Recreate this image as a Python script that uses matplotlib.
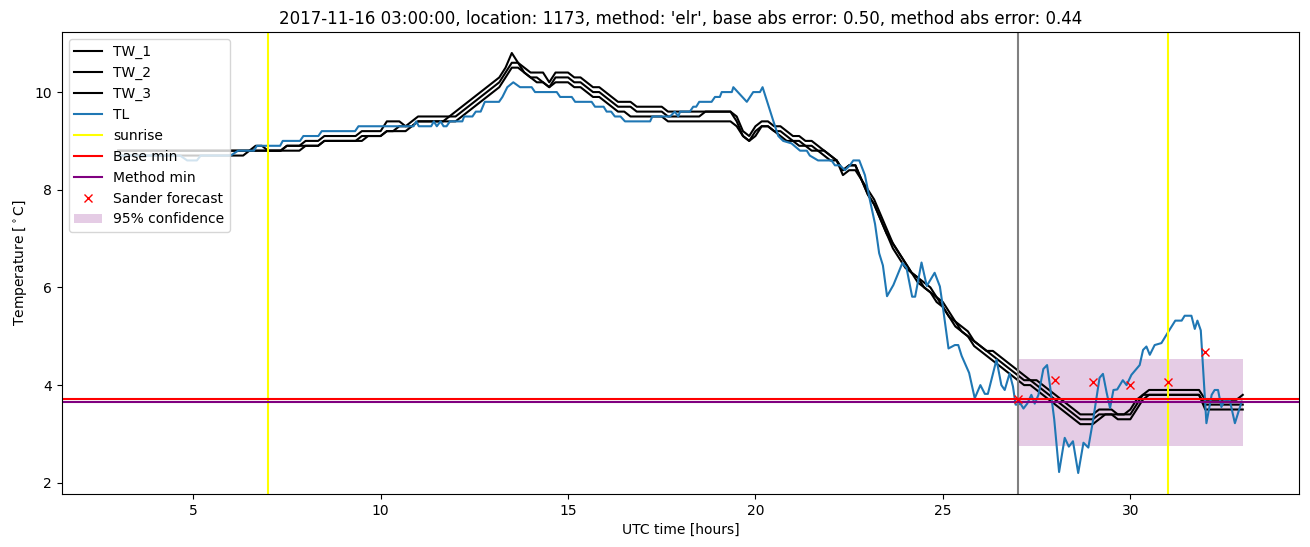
import numpy as np
import matplotlib
matplotlib.use('Agg')
from matplotlib import pyplot as plt

# 10-minute grid for the TW sensors
tw_time = np.linspace(3, 33, 181)
tw_1 = [8.8, 8.8, 8.8, 8.8, 8.8, 8.8,
        8.8, 8.8, 8.8, 8.8, 8.8, 8.8,
        8.8, 8.8, 8.8, 8.8, 8.8, 8.8,
        8.8, 8.8, 8.8, 8.8, 8.9, 8.9,
        8.8, 8.8, 8.8, 8.9, 8.9, 8.9,
        9.0, 9.0, 9.0, 9.1, 9.1, 9.1,
        9.1, 9.1, 9.1, 9.2, 9.2, 9.2,
        9.2, 9.4, 9.4, 9.4, 9.3, 9.4,
        9.5, 9.5, 9.5, 9.5, 9.5, 9.5,
        9.6, 9.7, 9.8, 9.9, 10.0, 10.1,
        10.2, 10.3, 10.5, 10.8, 10.6, 10.5,
        10.4, 10.4, 10.4, 10.2, 10.4, 10.4,
        10.4, 10.3, 10.3, 10.2, 10.1, 10.1,
        10.0, 9.9, 9.8, 9.8, 9.8, 9.7,
        9.7, 9.7, 9.7, 9.7, 9.6, 9.6,
        9.6, 9.6, 9.6, 9.6, 9.6, 9.6,
        9.6, 9.6, 9.6, 9.5, 9.2, 9.1,
        9.3, 9.4, 9.4, 9.3, 9.3, 9.2,
        9.1, 9.1, 9.0, 9.0, 8.9, 8.8,
        8.7, 8.6, 8.4, 8.5, 8.5, 8.2,
        8.0, 7.8, 7.5, 7.2, 6.9, 6.7,
        6.5, 6.3, 6.2, 6.1, 6.0, 5.8,
        5.7, 5.5, 5.3, 5.2, 5.1, 4.9,
        4.8, 4.7, 4.7, 4.6, 4.5, 4.4,
        4.3, 4.2, 4.1, 4.1, 4.0, 3.9,
        3.8, 3.7, 3.6, 3.5, 3.4, 3.4,
        3.4, 3.5, 3.5, 3.5, 3.4, 3.4,
        3.5, 3.7, 3.8, 3.9, 3.9, 3.9,
        3.9, 3.9, 3.9, 3.9, 3.9, 3.9,
        3.7, 3.7, 3.7, 3.7, 3.7, 3.7,
        3.8]
tw_2 = [8.8, 8.8, 8.8, 8.8, 8.8, 8.8,
        8.8, 8.8, 8.8, 8.8, 8.8, 8.8,
        8.8, 8.8, 8.8, 8.8, 8.8, 8.8,
        8.8, 8.8, 8.8, 8.8, 8.8, 8.8,
        8.8, 8.8, 8.8, 8.9, 8.9, 8.9,
        8.9, 8.9, 8.9, 9.0, 9.0, 9.0,
        9.0, 9.0, 9.0, 9.1, 9.1, 9.1,
        9.1, 9.2, 9.2, 9.3, 9.3, 9.3,
        9.4, 9.4, 9.4, 9.4, 9.4, 9.5,
        9.5, 9.6, 9.7, 9.8, 9.9, 10.0,
        10.1, 10.2, 10.4, 10.6, 10.6, 10.4,
        10.3, 10.3, 10.2, 10.1, 10.3, 10.3,
        10.3, 10.2, 10.2, 10.1, 10.0, 10.0,
        9.9, 9.8, 9.7, 9.7, 9.7, 9.6,
        9.6, 9.6, 9.6, 9.6, 9.5, 9.5,
        9.5, 9.5, 9.5, 9.5, 9.6, 9.6,
        9.6, 9.6, 9.6, 9.4, 9.1, 9.0,
        9.2, 9.3, 9.3, 9.2, 9.2, 9.1,
        9.0, 9.0, 8.9, 8.9, 8.8, 8.8,
        8.7, 8.6, 8.4, 8.5, 8.5, 8.2,
        7.9, 7.7, 7.4, 7.1, 6.9, 6.7,
        6.5, 6.3, 6.2, 6.0, 5.9, 5.8,
        5.6, 5.4, 5.3, 5.1, 5.0, 4.9,
        4.8, 4.7, 4.6, 4.5, 4.4, 4.3,
        4.2, 4.1, 4.1, 4.0, 3.9, 3.8,
        3.7, 3.6, 3.5, 3.4, 3.3, 3.3,
        3.3, 3.4, 3.4, 3.4, 3.4, 3.4,
        3.4, 3.6, 3.8, 3.8, 3.8, 3.8,
        3.8, 3.8, 3.8, 3.8, 3.8, 3.8,
        3.6, 3.6, 3.6, 3.6, 3.6, 3.6,
        3.6]
tw_3 = [8.7, 8.7, 8.7, 8.7, 8.7, 8.7,
        8.7, 8.7, 8.7, 8.7, 8.7, 8.7,
        8.7, 8.7, 8.7, 8.7, 8.7, 8.7,
        8.7, 8.7, 8.7, 8.8, 8.8, 8.8,
        8.8, 8.8, 8.8, 8.8, 8.8, 8.8,
        8.9, 8.9, 8.9, 9.0, 9.0, 9.0,
        9.0, 9.0, 9.0, 9.0, 9.1, 9.1,
        9.1, 9.2, 9.2, 9.2, 9.2, 9.3,
        9.4, 9.4, 9.4, 9.4, 9.4, 9.4,
        9.4, 9.5, 9.6, 9.7, 9.8, 9.9,
        10.0, 10.1, 10.3, 10.5, 10.5, 10.4,
        10.3, 10.2, 10.2, 10.1, 10.2, 10.2,
        10.2, 10.1, 10.1, 10.0, 9.9, 9.9,
        9.8, 9.7, 9.6, 9.6, 9.5, 9.5,
        9.5, 9.5, 9.5, 9.5, 9.4, 9.4,
        9.4, 9.4, 9.4, 9.4, 9.4, 9.4,
        9.4, 9.4, 9.4, 9.3, 9.1, 9.0,
        9.1, 9.3, 9.3, 9.2, 9.1, 9.0,
        9.0, 8.9, 8.9, 8.8, 8.8, 8.7,
        8.6, 8.6, 8.3, 8.4, 8.4, 8.2,
        7.9, 7.7, 7.4, 7.1, 6.8, 6.6,
        6.4, 6.3, 6.1, 6.0, 5.9, 5.7,
        5.6, 5.4, 5.2, 5.1, 5.0, 4.8,
        4.7, 4.6, 4.5, 4.4, 4.3, 4.2,
        4.1, 4.0, 4.0, 3.9, 3.8, 3.7,
        3.6, 3.5, 3.4, 3.3, 3.2, 3.2,
        3.2, 3.3, 3.4, 3.4, 3.3, 3.3,
        3.3, 3.5, 3.7, 3.8, 3.8, 3.8,
        3.8, 3.8, 3.8, 3.8, 3.8, 3.8,
        3.5, 3.5, 3.5, 3.5, 3.5, 3.5,
        3.5]

tl_time = [3.0, 4.65, 4.84, 5.1, 5.2, 6.0, 6.2, 6.62, 6.7, 7.32, 7.39, 7.85, 7.94,
           8.34, 8.43, 9.32, 9.41, 10.88, 10.95, 11.02, 11.35, 11.42, 11.5, 11.6,
           11.68, 11.76, 11.85, 12.18, 12.23, 12.45, 12.54, 12.67, 12.78, 13.16,
           13.25, 13.38, 13.54, 13.72, 14.03, 14.12, 14.7, 14.79, 15.1, 15.19,
           15.63, 15.72, 15.95, 16.03, 16.15, 16.25, 16.4, 16.52, 17.19, 17.25,
           17.72, 17.85, 17.94, 17.99, 18.25, 18.34, 18.42, 18.5, 18.83, 18.92,
           19.05, 19.1, 19.37, 19.41, 19.59, 19.77, 19.94, 20.12, 20.19, 20.48,
           20.61, 20.74, 20.96, 21.19, 21.37, 21.45, 21.67, 22.03, 22.12, 22.25,
           22.39, 22.52, 22.61, 22.77, 22.92, 23.05, 23.19, 23.3, 23.4, 23.51,
           23.68, 23.76, 23.92, 24.03, 24.18, 24.26, 24.43, 24.57, 24.78, 24.92,
           25.0, 25.15, 25.32, 25.41, 25.5, 25.7, 25.85, 26.0, 26.12, 26.2, 26.43,
           26.56, 26.65, 26.78, 26.87, 26.94, 27.0, 27.07, 27.15, 27.25, 27.36,
           27.45, 27.55, 27.68, 27.78, 27.86, 27.97, 28.1, 28.25, 28.36, 28.47,
           28.61, 28.75, 28.88, 29.0, 29.07, 29.18, 29.27, 29.37, 29.46, 29.55,
           29.65, 29.8, 29.9, 30.03, 30.25, 30.34, 30.43, 30.52, 30.65, 30.83,
           31.02, 31.2, 31.37, 31.45, 31.63, 31.72, 31.79, 31.88, 32.03, 32.17,
           32.25, 32.34, 32.43, 32.52, 32.65, 32.79, 32.97]
tl_temp = [8.7, 8.7, 8.6, 8.6, 8.7, 8.7, 8.8, 8.8, 8.9, 8.9, 9.0, 9.0, 9.1,
           9.1, 9.2, 9.2, 9.3, 9.3, 9.4, 9.3, 9.3, 9.4, 9.3, 9.4,
           9.3, 9.3, 9.4, 9.4, 9.5, 9.5, 9.6, 9.6, 9.8, 9.8,
           9.9, 10.1, 10.2, 10.1, 10.1, 10.0, 10.0, 9.9, 9.9, 9.8,
           9.8, 9.7, 9.7, 9.6, 9.6, 9.5, 9.5, 9.4, 9.4, 9.5,
           9.5, 9.6, 9.5, 9.6, 9.6, 9.7, 9.7, 9.8, 9.8, 9.9,
           9.9, 10.0, 10.0, 10.1, 9.95, 9.8, 10.0, 10.0, 10.1, 9.4,
           9.1, 9.0, 8.95, 8.8, 8.8, 8.7, 8.6, 8.6, 8.5, 8.5,
           8.4, 8.5, 8.6, 8.6, 8.3, 7.8, 7.3, 6.7, 6.45, 5.82,
           6.05, 6.2, 6.5, 6.4, 5.81, 5.81, 6.51, 6.03, 6.3, 6.02,
           5.6, 4.75, 4.82, 4.82, 4.6, 4.25, 3.73, 4.0, 3.82, 3.82, 4.52,
           4.0, 3.9, 4.24, 3.97, 3.6, 3.6, 3.62, 3.52, 3.62, 3.8,
           3.62, 3.8, 4.33, 4.41, 3.97, 3.3, 2.22, 2.92, 2.74, 2.85,
           2.2, 2.82, 2.72, 3.25, 3.6, 4.15, 4.23, 3.84, 3.53, 3.9,
           3.91, 4.1, 4.0, 4.21, 4.41, 4.72, 4.79, 4.62, 4.82, 4.86,
           5.1, 5.32, 5.32, 5.42, 5.42, 5.15, 5.32, 5.12, 3.22, 3.8,
           3.9, 3.9, 3.55, 3.7, 3.7, 3.22, 3.66]

sunrise = [7, 31]
forecast_start = 27
base_min = 3.72
method_min = 3.65
sander_time = [27, 28, 29, 30, 31, 32]
sander_temp = [3.72, 4.1, 4.07, 4.0, 4.06, 4.67]
conf_time = [27, 33]
conf_low = 2.76
conf_high = 4.54

fig = plt.figure(figsize=(13.1, 5.47), dpi=100)
ax = fig.add_subplot(111)
fig.subplots_adjust(left=0.0473, right=0.9916, top=0.9415, bottom=0.0969)

ax.plot(tw_time, tw_1, color='k', label='TW_1')
ax.plot(tw_time, tw_2, color='k', label='TW_2')
ax.plot(tw_time, tw_3, color='k', label='TW_3')
ax.plot(tl_time, tl_temp, color='tab:blue', label='TL')
ax.axvline(sunrise[0], color='yellow', label='sunrise')
ax.axvline(sunrise[1], color='yellow')
ax.axvline(forecast_start, color='grey')
ax.axhline(base_min, color='red', label='Base min')
ax.axhline(method_min, color='purple', label='Method min')
ax.plot(sander_time, sander_temp, 'rx', label='Sander forecast')
ax.fill_between(conf_time, conf_low, conf_high, color='purple', alpha=0.2,
                linewidth=0, label='95% confidence')

ax.set_xlabel('UTC time [hours]')
ax.set_ylabel('Temperature [$^\\circ$C]')
ax.set_title("2017-11-16 03:00:00, location: 1173, method: 'elr', "
             "base abs error: 0.50, method abs error: 0.44")
ax.legend(loc='upper left')

fig.savefig('out.png', dpi=100)
